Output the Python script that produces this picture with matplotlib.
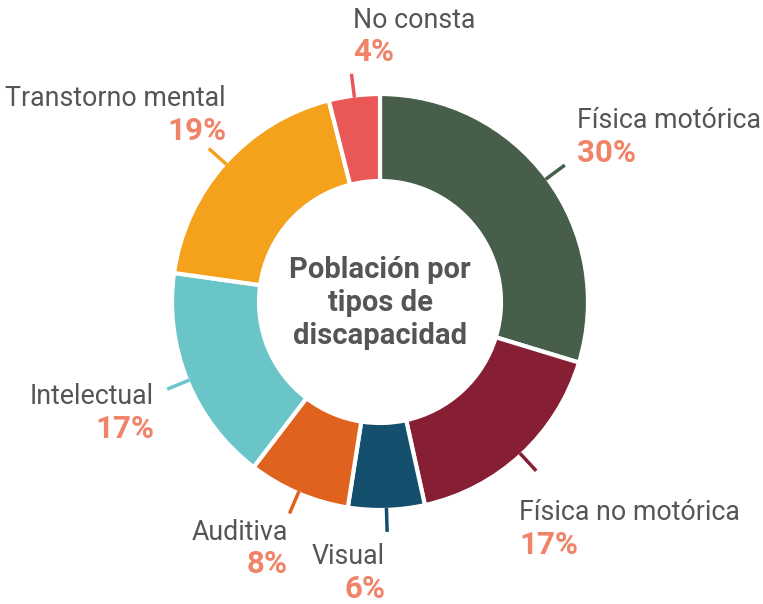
import numpy as np
import matplotlib.pyplot as plt

plt.rcParams['font.family'] = ['Roboto', 'DejaVu Sans']

categories = ["Física motórica", "Física no motórica", "Visual", "Auditiva",
              "Intelectual", "Transtorno mental", "No consta"]
values = [30, 17, 6, 8, 17, 19, 4]
colors = ["#465e4a", "#861f33", "#154f6e", "#e0621f", "#6ac5c9", "#f4a11c", "#e95757"]

# label anchor (x, y in pixels from top-left) and alignment
label_pos = [(577, 121, "left"), (519, 513, "left"), (385, 557, "right"),
             (288, 532, "right"), (154, 397, "right"), (226, 99, "right"),
             (353, 20, "left")]

W, H = 763, 604
fig = plt.figure(figsize=(W / 100, H / 100), dpi=100)
ax = fig.add_axes([0, 0, 1, 1])

cx, cy, R = 380, H - 302, 208
wedges, _ = ax.pie(values, colors=colors, startangle=90, counterclock=False,
                   center=(cx, cy), radius=R,
                   wedgeprops=dict(width=87, edgecolor="white", linewidth=3))
ax.set_xlim(0, W)
ax.set_ylim(0, H)
ax.axis("off")

for w, col, cat, val, (lx, ly, ha) in zip(wedges, colors, categories, values, label_pos):
    mid = np.deg2rad((w.theta1 + w.theta2) / 2)
    r0, r1 = R - 2, R + 22
    ax.plot([cx + r0 * np.cos(mid), cx + r1 * np.cos(mid)],
            [cy + r0 * np.sin(mid), cy + r1 * np.sin(mid)],
            color=col, lw=2.5, solid_capstyle="butt")
    ax.text(lx, H - ly, cat, ha=ha, va="center", fontsize=19.3, color="#555555")
    ax.text(lx, H - ly - 32, f"{val}%", ha=ha, va="center", fontsize=22.5,
            fontweight="bold", color="#f08468")

ax.text(cx, cy - 1, "Población por\ntipos de\ndiscapacidad", ha="center", va="center",
        fontsize=21, fontweight="bold", color="#555555", linespacing=1.22)

fig.savefig("out.png", dpi=100)
